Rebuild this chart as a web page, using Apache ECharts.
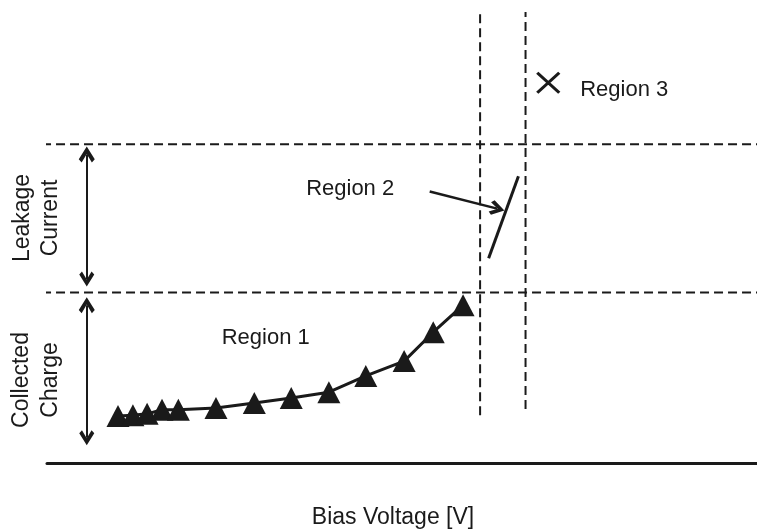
<!DOCTYPE html>
<html>
<head>
<meta charset="utf-8">
<script src="https://cdn.jsdelivr.net/npm/echarts@6/dist/echarts.min.js"></script>
<style>
  html, body { margin: 0; padding: 0; background: #fff; }
  #chart { width: 757px; height: 532px; }
</style>
</head>
<body>
<div id="chart"></div>
<script>
  // region 1: collected charge vs bias (arbitrary units)
  var biasV = [10.0, 12.1, 14.1, 16.2, 18.5, 23.8, 29.2, 34.4, 39.7, 44.9, 50.3, 54.4, 58.6]
  var charge = [10.4, 10.6, 10.9, 11.8, 11.8, 12.2, 13.3, 14.4, 15.7, 19.3, 22.6, 29.0, 35.0]
  // region 2: leakage current jump
  var leakBias = [62.2, 66.4]
  var leakCurrent = [45.4, 63.6]
  // region 3: breakdown point
  var breakdown = [70.6, 84.3]
  // boundaries between regions
  var levelY = [37.8, 70.7]
  var levelX = [61.0, 67.4]
  var levelXBottom = [10.6, 12.0]
  // left double arrows (x, top, bottom)
  var spanX = 5.6
  var leakSpan = [68.4, 40.8]
  var chargeSpan = [35.0, 5.6]
  // pointer to region 2
  var pointer = [[53.9, 60.2], [63.4, 56.4]]
  // annotations
  var labels = [
    {name: 'Region 1', value: [30.8, 27.7]},
    {name: 'Region 2', value: [42.7, 60.8]},
    {name: 'Region 3', value: [81.3, 82.8]}
  ]

  var ink = '#1a1a1a'
  var font = 'Liberation Sans'
  var chev = 'path://M50,0L100,80L82,100L50,46L18,100L0,80Z'
  var dash = [9, 5]

  var chart = echarts.init(document.getElementById('chart'))

  var dashed = []
  levelY.forEach(function (y) {
    dashed.push({
      type: 'line', data: [[-0.7, y], [100, y]], symbol: 'none', clip: false, silent: true,
      lineStyle: {color: ink, width: 2, type: dash}
    })
  })
  levelX.forEach(function (x, i) {
    dashed.push({
      type: 'line', data: [[x, levelXBottom[i]], [x, 100]], symbol: 'none', clip: false, silent: true,
      lineStyle: {color: ink, width: 2, type: dash}
    })
  })

  var option = {
    animation: false,
    textStyle: {fontFamily: font},
    grid: {left: 47, right: 0, top: 12, bottom: 69, outerBoundsMode: 'none'},
    xAxis: {
      type: 'value', min: 0, max: 100,
      axisLine: {show: true, lineStyle: {color: ink, width: 3}},
      axisTick: {show: false}, axisLabel: {show: false}, splitLine: {show: false},
      name: 'Bias Voltage [V]', nameLocation: 'middle', nameGap: 43,
      nameTextStyle: {fontSize: 23, color: ink, fontFamily: font, padding: [0, 18, 0, 0]}
    },
    yAxis: {type: 'value', min: 0, max: 100, show: false},
    graphic: [
      {type: 'text', x: 37, y: 218, rotation: Math.PI / 2,
        style: {text: 'Leakage\nCurrent', fontSize: 23, lineHeight: 28, fontFamily: font, fill: ink, align: 'center', verticalAlign: 'middle'}},
      {type: 'text', x: 36, y: 380, rotation: Math.PI / 2,
        style: {text: 'Collected\nCharge', fontSize: 23, lineHeight: 29, fontFamily: font, fill: ink, align: 'center', verticalAlign: 'middle'}}
    ],
    series: dashed.concat([
      {
        type: 'line', data: biasV.map(function (v, i) { return [v, charge[i]] }),
        symbol: 'triangle', symbolSize: [23, 22], showAllSymbol: true,
        itemStyle: {color: ink}, lineStyle: {color: ink, width: 3}
      },
      {
        type: 'line', data: leakBias.map(function (v, i) { return [v, leakCurrent[i]] }),
        symbol: 'none', lineStyle: {color: ink, width: 3}
      },
      {
        type: 'scatter', data: [breakdown], symbol: 'path://M0,0L10,10M10,0L0,10', symbolSize: [22, 20],
        itemStyle: {color: 'none', borderColor: ink, borderWidth: 3, opacity: 1}
      },
      {
        type: 'lines', coordinateSystem: 'cartesian2d',
        symbol: [chev, chev], symbolSize: [16, 15],
        lineStyle: {color: ink, width: 2, opacity: 1},
        data: [
          {coords: [[spanX, leakSpan[0]], [spanX, leakSpan[1]]]},
          {coords: [[spanX, chargeSpan[0]], [spanX, chargeSpan[1]]]}
        ]
      },
      {
        type: 'lines', coordinateSystem: 'cartesian2d',
        symbol: ['none', chev], symbolSize: [16, 15],
        lineStyle: {color: ink, width: 2.5, opacity: 1},
        data: [{coords: pointer}]
      },
      {
        type: 'scatter', data: labels, symbolSize: 0, itemStyle: {opacity: 1},
        label: {show: true, position: 'inside', formatter: '{b}', fontSize: 22, color: ink, opacity: 1, fontFamily: font}
      }
    ])
  }
  chart.setOption(option)
</script>
</body>
</html>
